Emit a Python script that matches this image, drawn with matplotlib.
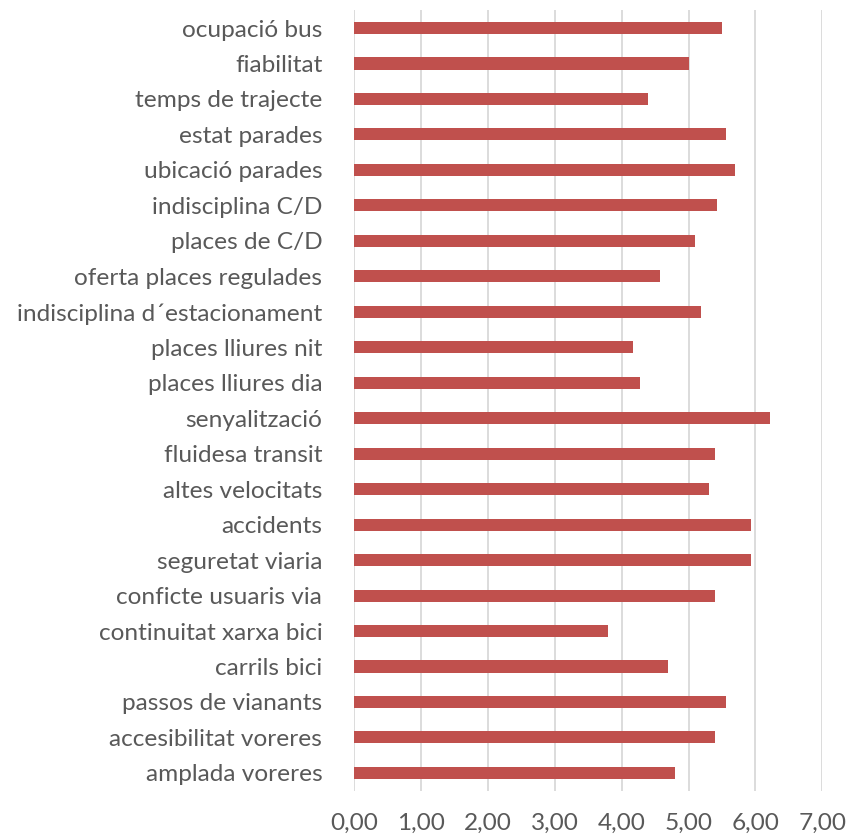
import numpy as np
import matplotlib
matplotlib.use("Agg")
import matplotlib.pyplot as plt
from matplotlib.ticker import FuncFormatter

# categories from top to bottom as shown
labels = [
    "ocupació bus", "fiabilitat", "temps de trajecte", "estat parades",
    "ubicació parades", "indisciplina C/D", "places de C/D",
    "oferta places regulades", "indisciplina d´estacionament",
    "places lliures nit", "places lliures dia", "senyalització",
    "fluidesa transit", "altes velocitats", "accidents", "seguretat viaria",
    "conficte usuaris via", "continuitat xarxa bici", "carrils bici",
    "passos de vianants", "accesibilitat voreres", "amplada voreres",
]
values = [
    5.50, 5.00, 4.40, 5.56,
    5.69, 5.42, 5.10,
    4.57, 5.18,
    4.17, 4.28, 6.22,
    5.39, 5.30, 5.94, 5.94,
    5.39, 3.79, 4.69,
    5.56, 5.40, 4.79,
]
xticks = [0, 1, 2, 3, 4, 5, 6, 7]

plt.rcParams['font.family'] = ['Lato', 'DejaVu Sans']

fig = plt.figure(figsize=(8.48, 8.35), dpi=100)
ax = fig.add_axes([0.4178, 0.0531, 0.5519, 0.9346])

y = np.arange(len(labels))[::-1]
ax.barh(y, values, height=0.34, color="#c0504d", zorder=3)

ax.set_xlim(0, 7)
ax.set_ylim(-0.5, len(labels) - 0.5)
ax.set_xticks(xticks)
ax.xaxis.set_major_formatter(FuncFormatter(lambda v, p: f"{v:.2f}".replace(".", ",")))
ax.set_yticks(y)
ax.set_yticklabels(labels)

ax.grid(axis="x", color="#d9d9d9", linewidth=1.3, zorder=0)
for s in ax.spines.values():
    s.set_visible(False)
ax.tick_params(axis="both", length=0, labelsize=17.6, colors="#595959")
ax.tick_params(axis="y", pad=23)
ax.tick_params(axis="x", pad=16)

fig.savefig("out.png", dpi=100)
